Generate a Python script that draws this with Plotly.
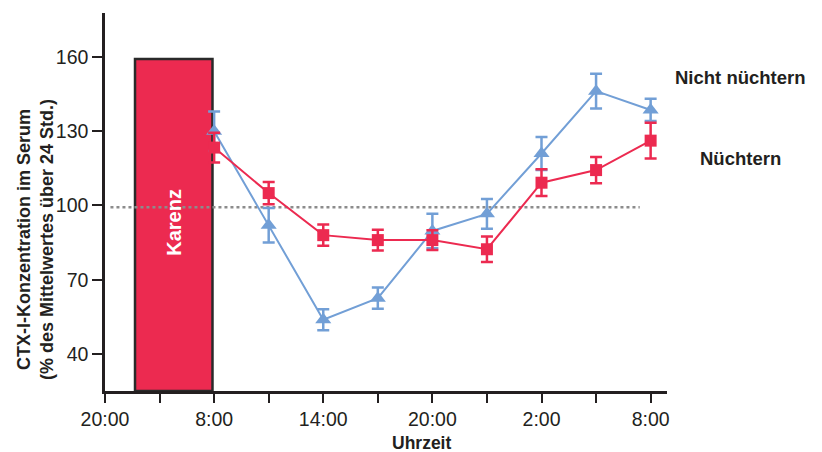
import plotly.graph_objects as go

# ---- data ----
tick_positions = [0, 1, 2, 3, 4, 5, 6, 7, 8, 9, 10]
tick_labels = ["20:00", "", "8:00", "", "14:00", "", "20:00", "", "2:00", "", "8:00"]

time_idx = [2, 3, 4, 5, 6, 7, 8, 9, 10]
nuechtern = [123.4, 105.0, 88.0, 86.0, 86.0, 82.3, 109.2, 114.3, 126.2]
nuechtern_err = [6.0, 4.5, 4.3, 4.2, 4.0, 5.2, 5.4, 5.3, 7.2]
nicht_nuechtern = [130.0, 92.0, 53.8, 62.5, 89.7, 96.6, 121.0, 146.2, 138.6]
nicht_nuechtern_err = [8.0, 7.0, 4.2, 4.3, 7.0, 6.0, 6.7, 7.0, 4.5]

karenz_start = 0.55
karenz_end = 1.97
karenz_top = 159.2
y_min = 25.0
y_max = 177.8

ref_x = [0.1, 9.8]
ref_level = 99.3

RED = "#EC2A50"
BLUE = "#729FD6"
DARK = "#231F20"
FONT = "Liberation Sans, Arial, sans-serif"

fig = go.Figure()

# Karenz bar
fig.add_trace(go.Bar(
    x=[(karenz_start + karenz_end) / 2],
    y=[karenz_top - y_min],
    base=y_min,
    width=karenz_end - karenz_start,
    marker=dict(color=RED, line=dict(color="#2A2A2A", width=2.5)),
    showlegend=False, hoverinfo="skip",
))

# reference line (mean)
fig.add_trace(go.Scatter(
    x=ref_x, y=[ref_level, ref_level], mode="lines",
    line=dict(color="#8C8C8C", width=2.5, dash="dot"),
    showlegend=False, hoverinfo="skip",
))

# Nicht nüchtern (blue)
fig.add_trace(go.Scatter(
    x=time_idx, y=nicht_nuechtern, mode="lines+markers",
    line=dict(color=BLUE, width=2),
    marker=dict(symbol="triangle-up", size=14, color=BLUE),
    error_y=dict(type="data", array=nicht_nuechtern_err, color=BLUE, thickness=2.5, width=6),
    name="Nicht nüchtern", showlegend=False,
))

# Nüchtern (red)
fig.add_trace(go.Scatter(
    x=time_idx, y=nuechtern, mode="lines+markers",
    line=dict(color=RED, width=2),
    marker=dict(symbol="square", size=12, color=RED),
    error_y=dict(type="data", array=nuechtern_err, color=RED, thickness=2.5, width=6),
    name="Nüchtern", showlegend=False,
))

annotations = [
    dict(x=(karenz_start + karenz_end) / 2, y=93.3, xref="x", yref="y",
         text="<b>Karenz</b>", textangle=-90, showarrow=False,
         font=dict(family=FONT, size=20, color="white"),
         xanchor="center", yanchor="middle"),
    dict(x=740, y=77, xref="paper", yref="paper", text="<b>Nicht nüchtern</b>",
         showarrow=False, font=dict(family=FONT, size=18.5, color=DARK),
         xanchor="center", yanchor="middle"),
    dict(x=740, y=158, xref="paper", yref="paper", text="<b>Nüchtern</b>",
         showarrow=False, font=dict(family=FONT, size=18.5, color=DARK),
         xanchor="center", yanchor="middle"),
    dict(x=421, y=443, xref="paper", yref="paper", text="<b>Uhrzeit</b>",
         showarrow=False, font=dict(family=FONT, size=17.5, color=DARK),
         xanchor="center", yanchor="middle"),
    dict(x=36, y=240, xref="paper", yref="paper",
         text="<b>CTX-I-Konzentration im Serum<br>(% des Mittelwertes über 24 Std.)</b>",
         textangle=-90, showarrow=False,
         font=dict(family=FONT, size=18, color=DARK),
         xanchor="center", yanchor="middle"),
]

# convert pixel positions for paper annotations
L, R, T, B = 105, 155, 13, 61
W, H = 822, 452
pw, ph = W - L - R, H - T - B
for a in annotations:
    if a["xref"] == "paper":
        a["x"] = (a["x"] - L) / pw
        a["y"] = (H - B - a["y"]) / ph

fig.update_layout(
    width=W, height=H,
    margin=dict(l=L, r=R, t=T, b=B),
    paper_bgcolor="white", plot_bgcolor="white",
    font=dict(family=FONT, color=DARK),
    annotations=annotations,
    showlegend=False,
    xaxis=dict(
        range=[0, 10.3], tickvals=tick_positions, ticktext=tick_labels,
        showline=True, linecolor=DARK, linewidth=2.5,
        ticks="outside", ticklen=9, tickwidth=2, tickcolor=DARK,
        showgrid=False, zeroline=False,
        tickfont=dict(family=FONT, size=19.5, color=DARK),
    ),
    yaxis=dict(
        range=[y_min, y_max], tickvals=[40, 70, 100, 130, 160],
        showline=True, linecolor=DARK, linewidth=2.5,
        ticks="outside", ticklen=10, tickwidth=2, tickcolor=DARK,
        showgrid=False, zeroline=False,
        tickfont=dict(family=FONT, size=19.5, color=DARK),
    ),
)

fig.write_html(
    "out.html",
    config={"displayModeBar": False},
    post_script="document.body.style.margin='0';document.body.style.overflow='hidden';",
)
